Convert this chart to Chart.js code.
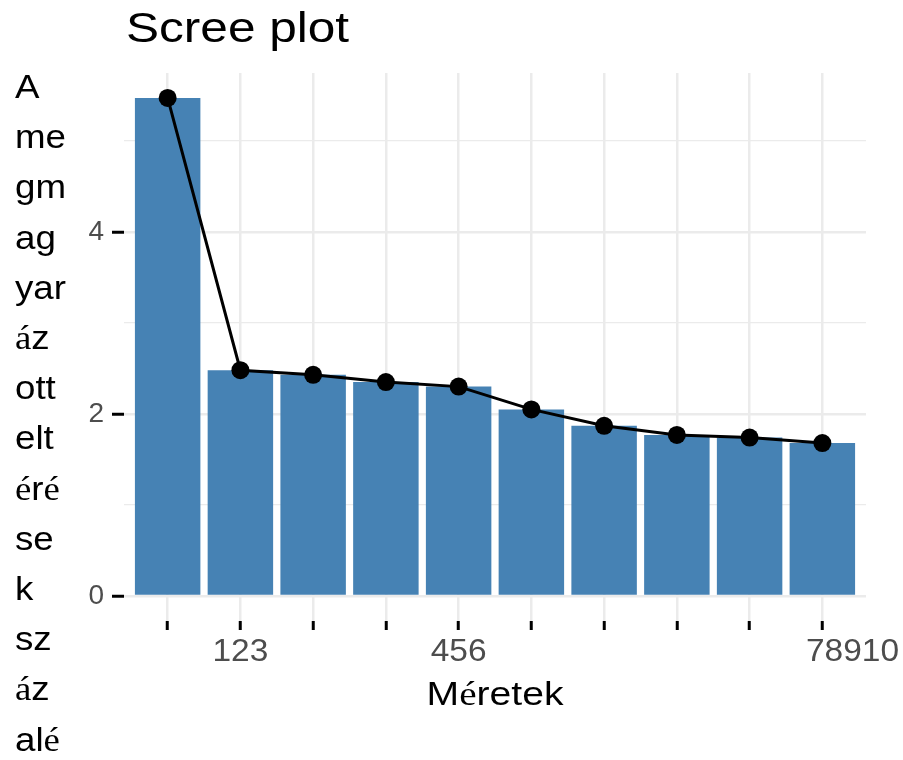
<!DOCTYPE html>
<html>
<head>
<meta charset="utf-8">
<script src="https://cdn.jsdelivr.net/npm/chart.js@4"></script>
<style>
html,body{margin:0;padding:0;background:#fff;}
canvas{display:block;}
</style>
</head>
<body>
<canvas id="c" width="903" height="760"></canvas>
<script>
// ---- data ----
const components = [1, 2, 3, 4, 5, 6, 7, 8, 9, 10];
const variances = [5.47, 2.48, 2.43, 2.35, 2.30, 2.05, 1.87, 1.77, 1.74, 1.68];
const xTickLabels = ['', '123', '', '', '456', '', '', '', '', '78910'];
const yTickValues = [0, 1, 2, 3, 4, 5];
const titleText = 'Scree plot';
const xTitleText = 'Méretek';
const yTitleLines = ['A', 'me', 'gm', 'ag', 'yar', 'áz', 'ott', 'elt', 'éré', 'se', 'k', 'sz', 'áz', 'alé'];

const points = components.map((c, i) => ({x: c, y: variances[i]}));
const maxV = Math.max(...variances);

const SANS = "'Liberation Sans', Arial, sans-serif";
const SERIF = "'Liberation Serif', 'Times New Roman', serif";
const ACCENTS = 'áéíóöőúüűÁÉÍÓÖŐÚÜŰ';

function runsOf(text) {
  const runs = [];
  for (const ch of text) {
    const serif = ACCENTS.includes(ch);
    const last = runs[runs.length - 1];
    if (last && last.serif === serif) last.t += ch; else runs.push({t: ch, serif});
  }
  return runs;
}

function drawText(ctx, text, x, y, o) {
  const size = o.size, sx = o.sx || 1;
  const runs = runsOf(text);
  let w = 0;
  runs.forEach(r => {
    ctx.font = size + 'px ' + (r.serif ? SERIF : SANS);
    r.w = ctx.measureText(r.t).width;
    w += r.w;
  });
  w *= sx;
  let start = x;
  if (o.align === 'center') start = x - w / 2;
  else if (o.align === 'right') start = x - w;
  ctx.save();
  ctx.translate(start, y);
  ctx.scale(sx, 1);
  ctx.fillStyle = o.color || '#000';
  ctx.textAlign = 'left';
  ctx.textBaseline = 'alphabetic';
  let cx = 0;
  runs.forEach(r => {
    ctx.font = size + 'px ' + (r.serif ? SERIF : SANS);
    ctx.fillText(r.t, cx, 0);
    cx += r.w;
  });
  ctx.restore();
}

const textPlugin = {
  id: 'texts',
  afterDraw(chart) {
    const ctx = chart.ctx;
    const xs = chart.scales.x;
    const ca = chart.chartArea;
    // title
    drawText(ctx, titleText, 126, 42, {size: 42, sx: 1.18, color: '#000'});
    // x tick labels
    xTickLabels.forEach((lab, i) => {
      if (!lab) return;
      const px = xs.getPixelForValue(components[i]);
      if (i === xTickLabels.length - 1) {
        drawText(ctx, lab, chart.width - 4, ca.bottom + 40, {size: 31, sx: 1.08, color: '#4D4D4D', align: 'right'});
      } else {
        drawText(ctx, lab, px, ca.bottom + 40, {size: 31, sx: 1.08, color: '#4D4D4D', align: 'center'});
      }
    });
    // x title
    drawText(ctx, xTitleText, (ca.left + ca.right) / 2, ca.bottom + 84, {size: 34, sx: 1.15, color: '#000', align: 'center'});
    // y title (stacked fragments)
    yTitleLines.forEach((line, i) => {
      drawText(ctx, line, 15, 98 + 50.2 * i, {size: 34, sx: 1.08, color: '#000', align: 'left'});
    });
  }
};

const isMajor = c => c.tick && Math.round(c.tick.value) % 2 === 0;

new Chart(document.getElementById('c'), {
  type: 'bar',
  data: {
    datasets: [
      {
        type: 'line',
        data: points,
        borderColor: '#000000',
        borderWidth: 3,
        pointRadius: 9,
        pointHoverRadius: 9,
        pointBackgroundColor: '#000000',
        pointBorderWidth: 0,
        tension: 0,
        order: 0
      },
      {
        type: 'bar',
        data: points,
        backgroundColor: '#4682B4',
        borderWidth: 0,
        categoryPercentage: 0.9,
        barPercentage: 1.0,
        order: 1
      }
    ]
  },
  options: {
    responsive: false,
    devicePixelRatio: 1,
    animation: false,
    events: [],
    layout: {padding: {left: 0, right: 37, top: 73, bottom: 0}},
    plugins: {legend: {display: false}, title: {display: false}, tooltip: {enabled: false}},
    scales: {
      x: {
        type: 'linear',
        offset: false,
        min: components[0] - 0.6,
        max: components[components.length - 1] + 0.6,
        afterBuildTicks: a => { a.ticks = components.map(v => ({value: v})); },
        afterFit: s => { s.height = 139; },
        border: {display: false},
        grid: {offset: false, color: '#EBEBEB', lineWidth: 2.5, drawTicks: true, tickLength: 9, tickColor: '#000000', tickWidth: 3},
        ticks: {callback: () => '', autoSkip: false, maxRotation: 0}
      },
      y: {
        min: -0.05 * maxV,
        max: 1.05 * maxV,
        afterBuildTicks: a => { a.ticks = yTickValues.map(v => ({value: v})); },
        afterFit: s => { s.width = 124; },
        border: {display: false},
        grid: {
          color: '#EBEBEB',
          lineWidth: c => isMajor(c) ? 2.5 : 1.2,
          drawTicks: true,
          tickLength: 12,
          tickWidth: 3,
          tickColor: c => isMajor(c) ? '#000000' : 'rgba(0,0,0,0)'
        },
        ticks: {
          callback: v => (Math.round(v) % 2 === 0 ? String(v) : ''),
          color: '#4D4D4D',
          font: {family: 'Liberation Sans', size: 28},
          padding: 8,
          autoSkip: false
        }
      }
    }
  },
  plugins: [textPlugin]
});
</script>
</body>
</html>
